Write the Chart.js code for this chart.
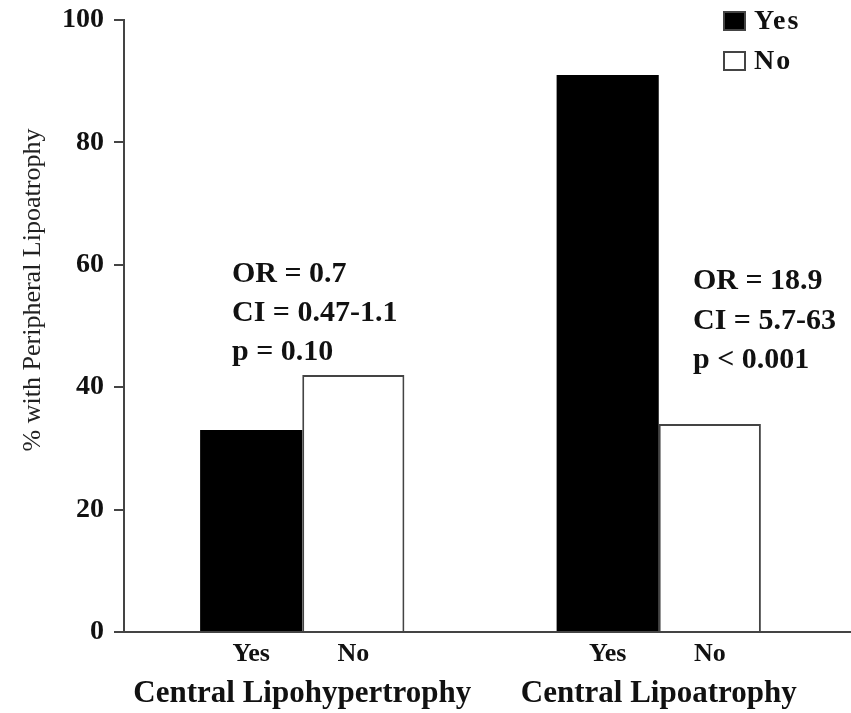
<!DOCTYPE html>
<html>
<head>
<meta charset="utf-8">
<script src="https://cdn.jsdelivr.net/npm/chart.js@4/dist/chart.umd.min.js"></script>
<style>
    html, body { margin: 0; padding: 0; background: #fff; }
    #wrap { width: 851px; height: 713px; position: relative; }
</style>
</head>
<body>
<div id="wrap"><canvas id="chart"></canvas></div>
<script>
// data
const groups = ['Central Lipohypertrophy', 'Central Lipoatrophy'];
const seriesNames = ['Yes', 'No'];
const yesValues = [33, 91];
const noValues = [42, 34];
const yTicks = [0, 20, 40, 60, 80, 100];
const statsLeft = ['OR = 0.7', 'CI = 0.47-1.1', 'p = 0.10'];
const statsRight = ['OR = 18.9', 'CI = 5.7-63', 'p < 0.001'];
const yTitle = '% with Peripheral Lipoatrophy';

const SERIF = '"Liberation Serif", "DejaVu Serif", serif';
const INK = '#111';
const LINE = '#444';

/* ----------------------------------------------------------
   extra drawing: legend, bar sub-labels, stats, y title
   ---------------------------------------------------------- */
const decorations = {
    id: 'decorations',
    afterDraw(chart) {
        const ctx = chart.ctx;
        const area = chart.chartArea;
        const y = chart.scales.y;

        ctx.save();

        // x baseline runs on to the right edge
        ctx.strokeStyle = LINE;
        ctx.lineWidth = 2;
        ctx.beginPath();
        ctx.moveTo(area.right - 1, area.bottom);
        ctx.lineTo(chart.width, area.bottom);
        ctx.stroke();

        // Yes / No under each bar
        ctx.fillStyle = INK;
        ctx.font = 'bold 26px ' + SERIF;
        ctx.textAlign = 'center';
        ctx.textBaseline = 'middle';
        chart.data.datasets.forEach((ds, i) => {
            chart.getDatasetMeta(i).data.forEach(bar => {
                ctx.fillText(ds.label, bar.x, area.bottom + 22);
            });
        });

        // odds ratio blocks
        ctx.font = 'bold 30px ' + SERIF;
        ctx.textAlign = 'left';
        statsLeft.forEach((t, i) => ctx.fillText(t, 232, y.getPixelForValue(58.5) + i * 39));
        statsRight.forEach((t, i) => ctx.fillText(t, 693, y.getPixelForValue(57.3) + i * 39.5));

        // legend
        ctx.font = 'bold 28px ' + SERIF;
        ctx.letterSpacing = '2px';
        chart.data.datasets.forEach((ds, i) => {
            const top = 11 + i * 40;
            ctx.fillStyle = ds.backgroundColor;
            ctx.fillRect(723, top, 23, 20);
            ctx.strokeStyle = LINE;
            ctx.lineWidth = 2;
            ctx.strokeRect(724, top + 1, 21, 18);
            ctx.fillStyle = INK;
            ctx.fillText(ds.label, 754, top + 11);
        });
        ctx.letterSpacing = '0px';

        // y axis title
        ctx.translate(33, 290);
        ctx.rotate(-Math.PI / 2);
        ctx.font = 'normal 26px ' + SERIF;
        ctx.textAlign = 'center';
        ctx.fillStyle = '#222';
        ctx.fillText(yTitle, 0, 0);

        ctx.restore();
    }
};

const chart = new Chart(document.getElementById('chart'), {
    type: 'bar',
    data: {
        labels: groups,
        datasets: [
            {
                label: seriesNames[0],
                data: yesValues,
                backgroundColor: '#000',
                borderColor: '#000',
                borderWidth: 0
            },
            {
                label: seriesNames[1],
                data: noValues,
                backgroundColor: '#fff',
                borderColor: LINE,
                borderWidth: 2,
                borderSkipped: 'bottom'
            }
        ]
    },
    options: {
        responsive: true,
        maintainAspectRatio: false,
        animation: false,
        devicePixelRatio: 1,
        layout: { padding: { top: 20, right: 14, left: 0, bottom: 0 } },
        plugins: {
            legend: { display: false },
            tooltip: { enabled: false }
        },
        datasets: {
            bar: { categoryPercentage: 0.573, barPercentage: 1.0 }
        },
        scales: {
            x: {
                grid: { display: false },
                border: { display: true, color: LINE, width: 2 },
                ticks: {
                    color: INK,
                    padding: 35,
                    maxRotation: 0,
                    font: { family: SERIF, size: 31, weight: 'bold' }
                },
                afterFit(scale) { scale.height = 81; }
            },
            y: {
                min: 0,
                max: 100,
                grid: { drawOnChartArea: false, drawTicks: true, tickLength: 10, color: LINE, lineWidth: 2 },
                border: { display: true, color: LINE, width: 2 },
                ticks: {
                    color: INK,
                    padding: 10,
                    font: { family: SERIF, size: 28, weight: 'bold' }
                },
                afterBuildTicks(scale) { scale.ticks = yTicks.map(v => ({ value: v })); },
                afterFit(scale) {
                    scale.width = 124;
                    scale.paddingTop = 0;
                    scale.paddingBottom = 0;
                }
            }
        }
    },
    plugins: [decorations]
});
</script>
</body>
</html>
